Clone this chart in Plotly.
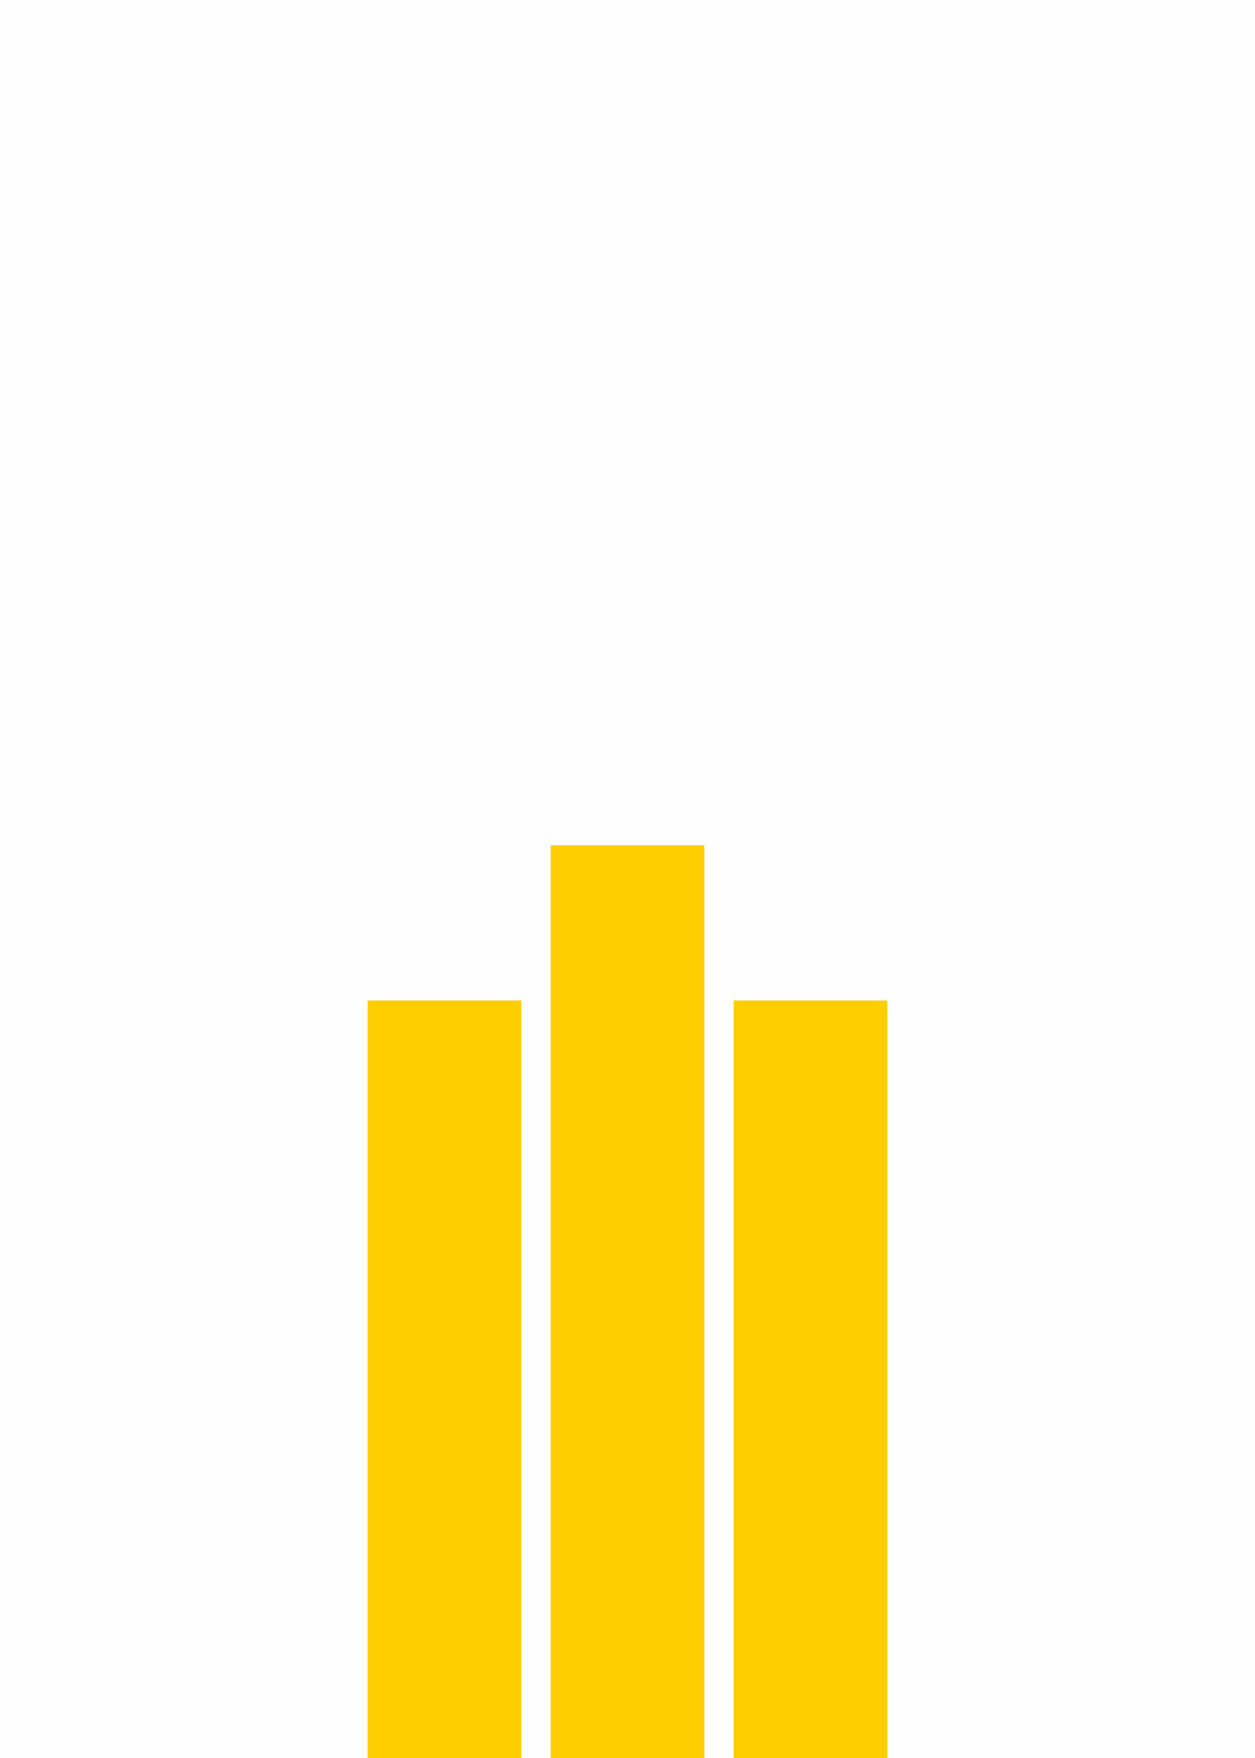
import plotly.graph_objects as go

# data
categories = ["A", "B", "C"]
values = [83, 100, 83]

BAR_COLOR = "#FFCE00"
BG = "#FEFEFE"


def main():
    fig = go.Figure()
    fig.add_trace(go.Bar(
        x=categories,
        y=values,
        marker=dict(color=BAR_COLOR, line=dict(width=0)),
        hoverinfo="x+y",
    ))

    fig.update_layout(
        width=1255,
        height=1758,
        margin=dict(l=0, r=0, t=0, b=0),
        paper_bgcolor=BG,
        plot_bgcolor=BG,
        bargap=0.16,
        showlegend=False,
    )
    fig.update_xaxes(range=[-2.429, 4.429], visible=False, fixedrange=True)
    fig.update_yaxes(range=[0, 192.6], visible=False, fixedrange=True)

    # drop the browser's default 8px body margin so the chart sits at 0,0
    fig.write_html(
        "out.html",
        config={"displayModeBar": False},
        post_script="document.body.style.margin='0';document.body.style.overflow='hidden';",
    )


if __name__ == "__main__":
    main()
